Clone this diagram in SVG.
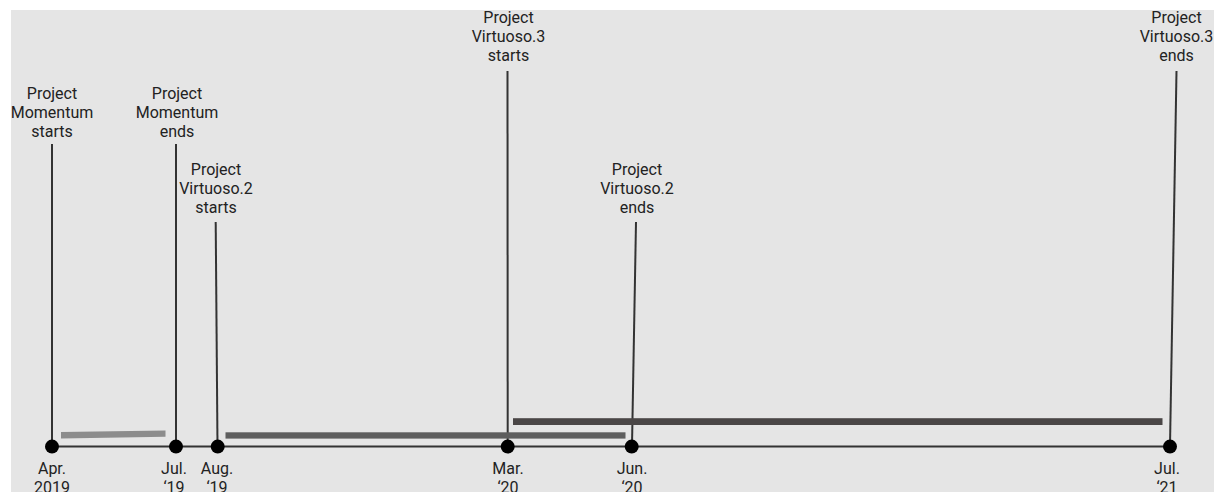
<svg xmlns="http://www.w3.org/2000/svg" width="1221" height="492" viewBox="0 0 1221 492">
<style>
.t{font-family:Roboto,"Liberation Sans",sans-serif;font-size:16px;fill:#222;text-anchor:middle}
.ln{stroke:#333;stroke-width:2;fill:none}
.dot{fill:#000}
</style>
<rect x="0" y="0" width="1221" height="492" fill="#fff"/>
<rect x="11" y="10" width="1203" height="482" fill="#e5e5e5"/>
<g id="connectors">
<line class="ln" x1="52" y1="446.5" x2="1170" y2="446.5"/>
<line class="ln" x1="52" y1="144" x2="52" y2="446"/>
<line class="ln" x1="176" y1="144" x2="176" y2="446"/>
<line class="ln" x1="215.7" y1="222" x2="217.5" y2="446"/>
<line class="ln" x1="507.5" y1="71" x2="507.7" y2="446"/>
<line class="ln" x1="636" y1="222" x2="632" y2="446"/>
<line class="ln" x1="1176.5" y1="71" x2="1170" y2="446"/>
</g>
<g id="bars">
<polygon points="61,432 165.5,430.5 165.5,436.8 61,438.4" fill="#8c8c8c"/>
<rect x="225.5" y="432.3" width="400" height="6.3" fill="#5e5e5e"/>
<rect x="513" y="418.2" width="649.5" height="6.8" fill="#4a4646"/>
</g>
<g id="node-momentum-start">
<circle class="dot" cx="52" cy="446.6" r="7"/>
<text class="t" x="52" y="99">Project</text>
<text class="t" x="52" y="118">Momentum</text>
<text class="t" x="52" y="137">starts</text>
<text class="t" x="52" y="474">Apr.</text>
<text class="t" x="52" y="493">2019</text>
</g>
<g id="node-momentum-end">
<circle class="dot" cx="176" cy="446.6" r="7"/>
<text class="t" x="177" y="99">Project</text>
<text class="t" x="177" y="118">Momentum</text>
<text class="t" x="177" y="137">ends</text>
<text class="t" x="174" y="474">Jul.</text>
<text class="t" x="174" y="493">‘19</text>
</g>
<g id="node-virtuoso2-start">
<circle class="dot" cx="217.7" cy="446.6" r="7"/>
<text class="t" x="216" y="175">Project</text>
<text class="t" x="216" y="194">Virtuoso.2</text>
<text class="t" x="216" y="213">starts</text>
<text class="t" x="217" y="474">Aug.</text>
<text class="t" x="217" y="493">‘19</text>
</g>
<g id="node-virtuoso3-start">
<circle class="dot" cx="507.7" cy="446.6" r="7"/>
<text class="t" x="508.5" y="23">Project</text>
<text class="t" x="508.5" y="42">Virtuoso.3</text>
<text class="t" x="508.5" y="61">starts</text>
<text class="t" x="508" y="474">Mar.</text>
<text class="t" x="508" y="493">‘20</text>
</g>
<g id="node-virtuoso2-end">
<circle class="dot" cx="631.7" cy="446.6" r="7"/>
<text class="t" x="637" y="175">Project</text>
<text class="t" x="637" y="194">Virtuoso.2</text>
<text class="t" x="637" y="213">ends</text>
<text class="t" x="632" y="474">Jun.</text>
<text class="t" x="632" y="493">‘20</text>
</g>
<g id="node-virtuoso3-end">
<circle class="dot" cx="1170" cy="446.6" r="7"/>
<text class="t" x="1176.5" y="23">Project</text>
<text class="t" x="1176.5" y="42">Virtuoso.3</text>
<text class="t" x="1176.5" y="61">ends</text>
<text class="t" x="1167" y="474">Jul.</text>
<text class="t" x="1167" y="493">‘21</text>
</g>
</svg>
